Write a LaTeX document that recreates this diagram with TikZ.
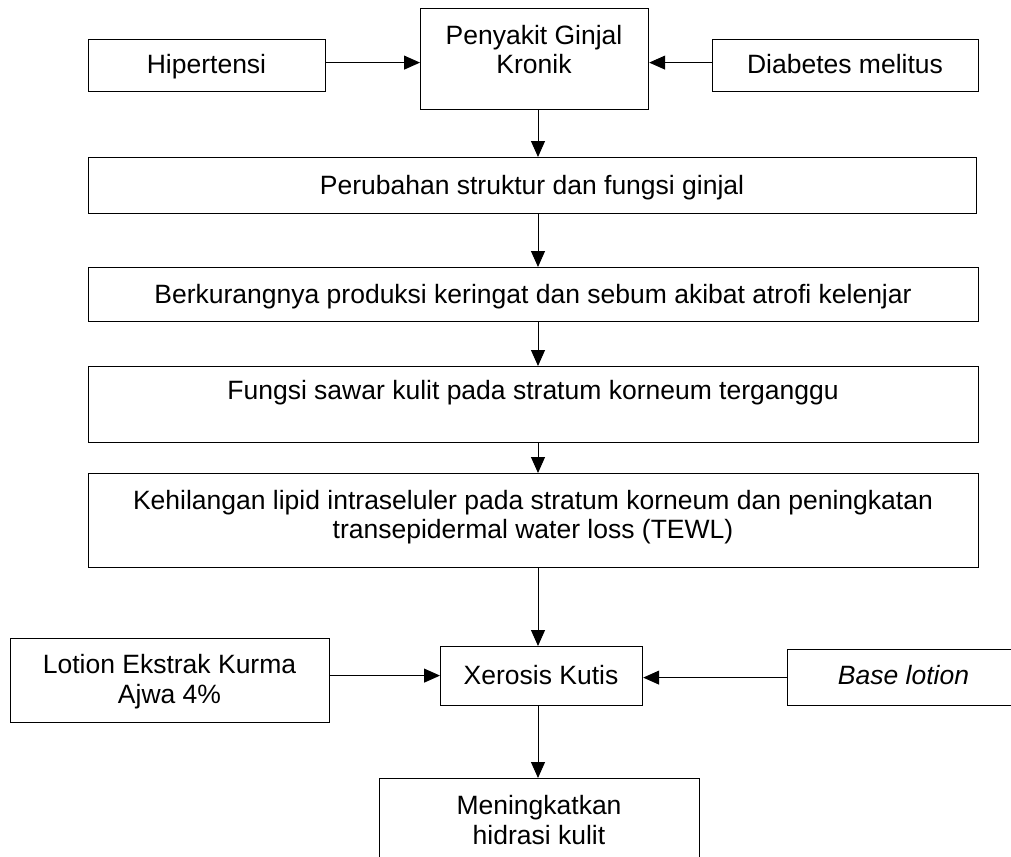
\documentclass[tikz,border=0pt]{standalone}
\usepackage{fontspec}
\setmainfont{Liberation Sans}
\usetikzlibrary{arrows.meta}
\begin{document}
\begin{tikzpicture}[x=1pt,y=-1pt,
  box/.style={draw=black,line width=1.2pt,rectangle,inner sep=0pt,anchor=north west},
  lab/.style={inner sep=0pt,anchor=base,font=\fontsize{26.5pt}{30pt}\selectfont},
  arr/.style={line width=1pt,-{Triangle[length=16pt,width=14pt]}}]
\useasboundingbox (0,0) rectangle (1011,856);
\clip (0,0) rectangle (1011,856);
% boxes
\node[box,minimum width=237pt,minimum height=52pt] (hip) at (88,39) {};
\node[box,minimum width=228pt,minimum height=101pt] (pgk) at (420,8) {};
\node[box,minimum width=266pt,minimum height=52pt] (dm) at (712,39) {};
\node[box,minimum width=888pt,minimum height=56pt] (per) at (88,157) {};
\node[box,minimum width=890pt,minimum height=54pt] (ber) at (88,267) {};
\node[box,minimum width=890pt,minimum height=76pt] (fun) at (88,366) {};
\node[box,minimum width=890pt,minimum height=94pt] (keh) at (88,473) {};
\node[box,minimum width=319pt,minimum height=84pt] (lot) at (10,638) {};
\node[box,minimum width=202pt,minimum height=59pt] (xer) at (440,646) {};
\node[box,minimum width=233pt,minimum height=56pt] (bas) at (787,649) {};
\node[box,minimum width=320pt,minimum height=102pt] (men) at (379,778) {};
% texts
\node[lab] (thip) at (206.5,74) {Hipertensi};
\node[lab] (tpgk1) at (534,45) {Penyakit Ginjal};
\node[lab] (tpgk2) at (534,74) {Kronik};
\node[lab] (tdm) at (845,74) {Diabetes melitus};
\node[lab] (tper) at (532,194) {Perubahan struktur dan fungsi ginjal};
\node[lab] (tber) at (533,303) {Berkurangnya produksi keringat dan sebum akibat atrofi kelenjar};
\node[lab] (tfun) at (533,399) {Fungsi sawar kulit pada stratum korneum terganggu};
\node[lab] (tkeh1) at (533,509) {Kehilangan lipid intraseluler pada stratum korneum dan peningkatan};
\node[lab] (tkeh2) at (533,538) {transepidermal water loss (TEWL)};
\node[lab] (tlot1) at (169.5,673) {Lotion Ekstrak Kurma};
\node[lab] (tlot2) at (169.5,703) {Ajwa 4\%};
\node[lab] (txer) at (541,684) {Xerosis Kutis};
\node[lab] (tbas) at (903.5,684) {\itshape Base lotion};
\node[lab] (tmen1) at (539,814) {Meningkatkan};
\node[lab] (tmen2) at (539,844) {hidrasi kulit};
% connectors
\coordinate (cx) at (538,0);
\coordinate (a1) at ([yshift=3pt]hip.east);
\coordinate (a2) at ([yshift=3pt]dm.west);
\draw[arr] (a1) -- (a1 -| pgk.west);
\draw[arr] (a2) -- (a2 -| pgk.east);
\draw[arr] (pgk.south -| cx) -- (per.north -| cx);
\draw[arr] (per.south -| cx) -- (ber.north -| cx);
\draw[arr] (ber.south -| cx) -- (fun.north -| cx);
\draw[arr] (fun.south -| cx) -- (keh.north -| cx);
\draw[arr] (keh.south -| cx) -- (xer.north -| cx);
\draw[arr] (xer.south -| cx) -- (men.north -| cx);
\coordinate (a3) at ([yshift=5pt]lot.east);
\draw[arr] (a3) -- (a3 -| xer.west);
\draw[arr] (bas.west) -- (bas.west -| xer.east);
\end{tikzpicture}
\end{document}
